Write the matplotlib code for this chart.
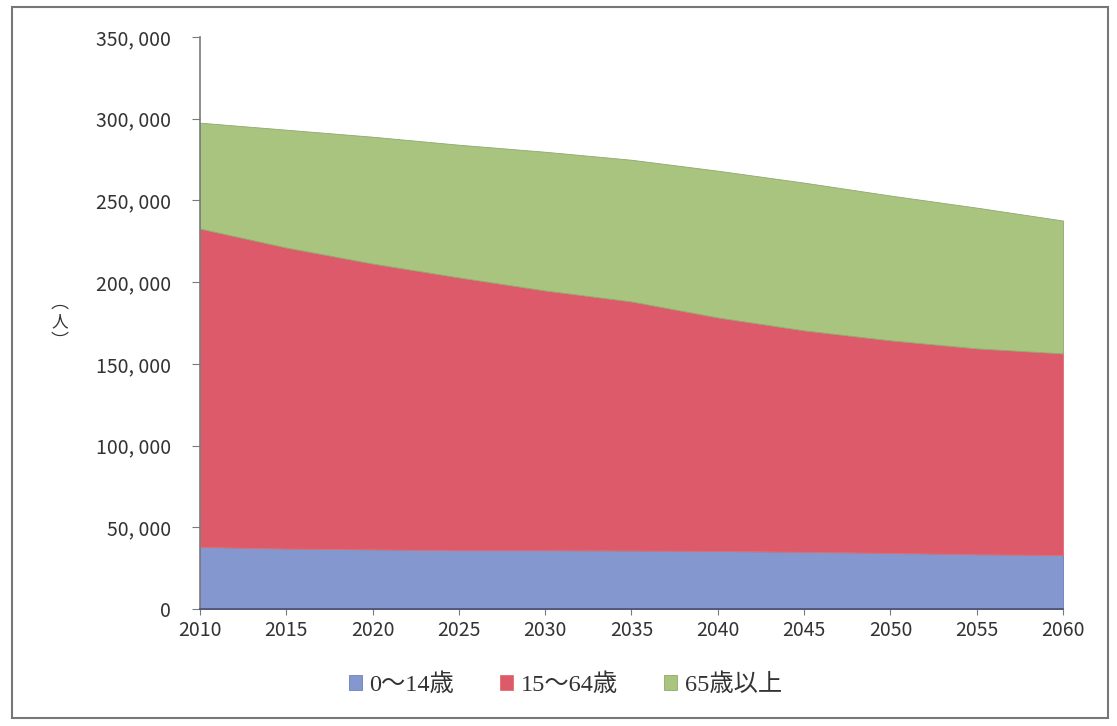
import matplotlib
matplotlib.use("Agg")
import matplotlib.pyplot as plt
from matplotlib.patches import Rectangle
from matplotlib.ticker import FuncFormatter

years = [2010, 2015, 2020, 2025, 2030, 2035, 2040, 2045, 2050, 2055, 2060]
age_0_14 = [38000, 37000, 36500, 36000, 36000, 35800, 35500, 35000, 34300, 33500, 33000]
age_15_64 = [194800, 184200, 174900, 166900, 158900, 152400, 142900, 135500, 130100, 126000, 123400]
age_65_plus = [64800, 72100, 77600, 81200, 84900, 86700, 89800, 90400, 88600, 86100, 81300]
labels = ["0～14歳", "15～64歳", "65歳以上"]
colors = ["#8497cf", "#dd5a6b", "#a9c47f"]
yticks = [0, 50000, 100000, 150000, 200000, 250000, 300000, 350000]

plt.rcParams['font.family'] = ['Noto Sans CJK JP', 'DejaVu Sans']

fig = plt.figure(figsize=(11.17, 7.26), dpi=100)
fig.patch.set_facecolor("white")
ax = fig.add_axes([0.179, 0.1612, 0.7727, 0.7878])

polys = ax.stackplot(years, age_0_14, age_15_64, age_65_plus, colors=colors,
                     labels=labels, linewidth=0.6)
for p, ec in zip(polys, ["#6f7fb5", "#e0706a", "#8fa870"]):
    p.set_edgecolor(ec)

ax.set_xlim(2010, 2060)
ax.set_ylim(0, 350000)
ax.set_xticks(years)
ax.set_yticks(yticks)
ax.yaxis.set_major_formatter(FuncFormatter(lambda v, p: "{:,}".format(int(v)).replace(",", ", ")))

for s in ["top", "right"]:
    ax.spines[s].set_visible(False)
ax.spines["left"].set_color("#7a7a7a")
ax.spines["bottom"].set_color("#4a5070")
ax.spines["left"].set_linewidth(1.2)
ax.spines["bottom"].set_linewidth(1.2)

ax.tick_params(axis="y", direction="out", length=6, color="#7a7a7a", pad=15,
               labelsize=14, labelcolor="#333333")
ax.tick_params(axis="x", direction="out", length=4, color="#7a7a7a", pad=4,
               labelsize=14, labelcolor="#333333")

# vertical unit label （人）
fig.text(60 / 1117, 1 - 303 / 726, "︵", ha="center", va="center",
         fontsize=13, color="#333333")
fig.text(60 / 1117, 1 - 322 / 726, "人", ha="center", va="center",
         fontsize=12, color="#333333")
fig.text(60 / 1117, 1 - 342 / 726, "︶", ha="center", va="center",
         fontsize=13, color="#333333")

leg = fig.legend(loc="center", bbox_to_anchor=(0.506, 0.057), ncol=3, frameon=False,
                 prop={"family": ["Liberation Serif", "Noto Sans CJK JP"], "size": 17.5},
                 handlelength=0.55, handleheight=0.55, handletextpad=0.3, columnspacing=1.9)
for t in leg.get_texts():
    t.set_color("#333333")

fig.add_artist(Rectangle((12 / 1117, 1 - 718 / 726), (1108 - 12) / 1117, (718 - 7) / 726,
                         transform=fig.transFigure, fill=False, edgecolor="#777777",
                         linewidth=1.5))

fig.savefig("out.png", dpi=100)
